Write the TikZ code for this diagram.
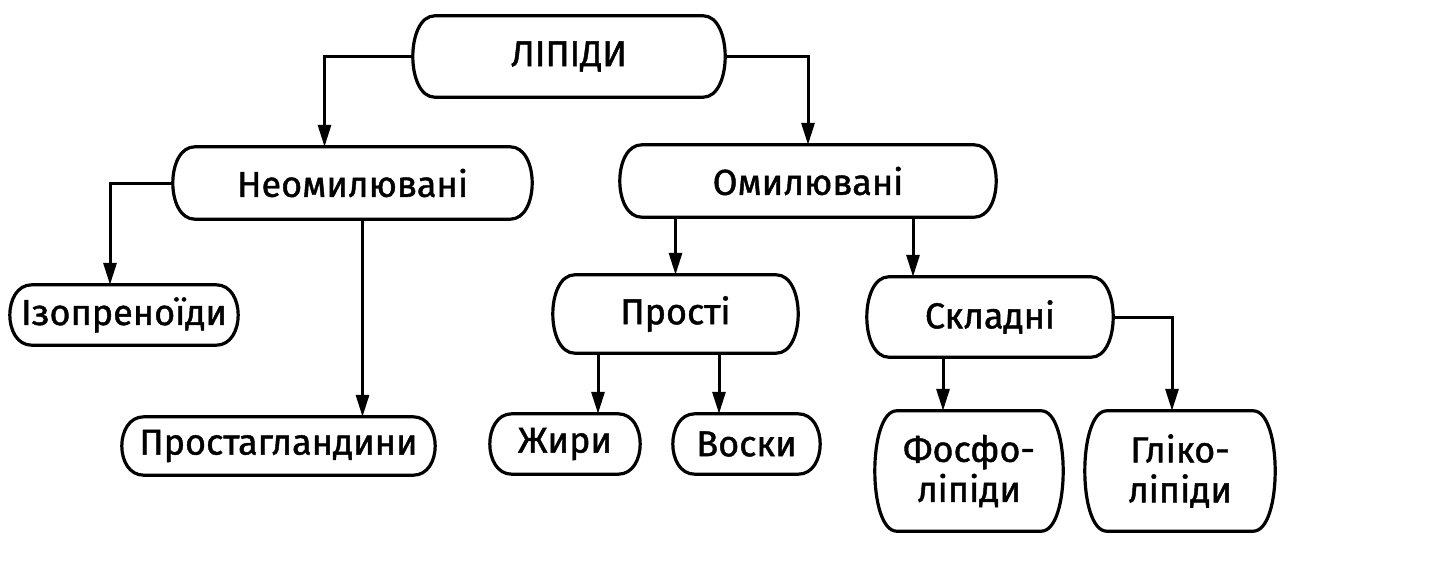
\documentclass[tikz,border=0pt]{standalone}
\usepackage{fontspec}
\setmainfont{Fira Sans}
\newfontfamily\lblfont{Fira Sans}[FakeBold=1.2]
\usetikzlibrary{arrows.meta,calc}
\newcommand\roundbox[1]{%
  \draw[boxline] ($(#1.north west)+(22,0)$) -- ($(#1.north east)+(-22,0)$)
    .. controls ($(#1.north east)+(7.33,0)$) and ($(#1.south east)+(7.33,0)$) .. ($(#1.south east)+(-22,0)$)
    -- ($(#1.south west)+(22,0)$)
    .. controls ($(#1.south west)+(-7.33,0)$) and ($(#1.north west)+(-7.33,0)$) .. cycle;}
\begin{document}
\begin{tikzpicture}[x=1pt,y=-1pt,
  lbl/.style={inner sep=0pt, anchor=center, align=center,
    font=\lblfont\fontsize{36}{40}\selectfont},
  boxline/.style={line width=3.2pt, line join=round},
  arr/.style={line width=3pt, -{Triangle[length=22pt,width=13pt]}}]
\useasboundingbox (0,0) rectangle (1429,563);
\node[lbl, minimum width=312pt, minimum height=81pt] (lip) at (569,56.5) {ЛІПІДИ};
\node[lbl, minimum width=359pt, minimum height=72pt] (neo) at (352.5,183) {Неомилювані};
\node[lbl, minimum width=376pt, minimum height=72pt] (om) at (808,181) {Омилювані};
\node[lbl, minimum width=228pt, minimum height=60pt] (izo) at (124,315) {Ізопреноїди};
\node[lbl, minimum width=313pt, minimum height=58pt] (pros) at (278.5,446) {Простагландини};
\node[lbl, minimum width=245pt, minimum height=78pt] (prosti) at (675.5,314) {Прості};
\node[lbl, minimum width=246pt, minimum height=80pt] (skl) at (990,317) {Складні};
\node[lbl, minimum width=150pt, minimum height=60pt] (zhyr) at (565,444) {Жири};
\node[lbl, minimum width=147pt, minimum height=60pt] (vosk) at (746.5,444) {Воски};
\node[lbl, minimum width=188pt, minimum height=120pt] (fos) at (969,471) {Фосфо-\\ліпіди};
\node[lbl, minimum width=190pt, minimum height=120pt] (gli) at (1180,471) {Гліко-\\ліпіди};
\foreach \n in {lip,neo,om,izo,pros,prosti,skl,zhyr,vosk,fos,gli} {\roundbox{\n}}
\draw[arr] (lip.west) -| ([xshift=-28pt]neo.north);
\draw[arr] (lip.east) -| (om.north);
\draw[arr] (neo.west) -| ([xshift=-14pt]izo.north);
\draw[arr] ([xshift=10pt]neo.south) -- ([xshift=10pt]neo.south |- pros.north);
\draw[arr] (om.south -| prosti.north) -- (prosti.north);
\draw[arr] ([xshift=-77pt]skl.north |- om.south) -- ([xshift=-77pt]skl.north);
\draw[arr] ([xshift=33pt]zhyr.north |- prosti.south) -- ([xshift=33pt]zhyr.north);
\draw[arr] ([xshift=-27.5pt]vosk.north |- prosti.south) -- ([xshift=-27.5pt]vosk.north);
\draw[arr] ([xshift=-26pt]fos.north |- skl.south) -- ([xshift=-26pt]fos.north);
\draw[arr] (skl.east) -| ([xshift=-8pt]gli.north);
\end{tikzpicture}
\end{document}
